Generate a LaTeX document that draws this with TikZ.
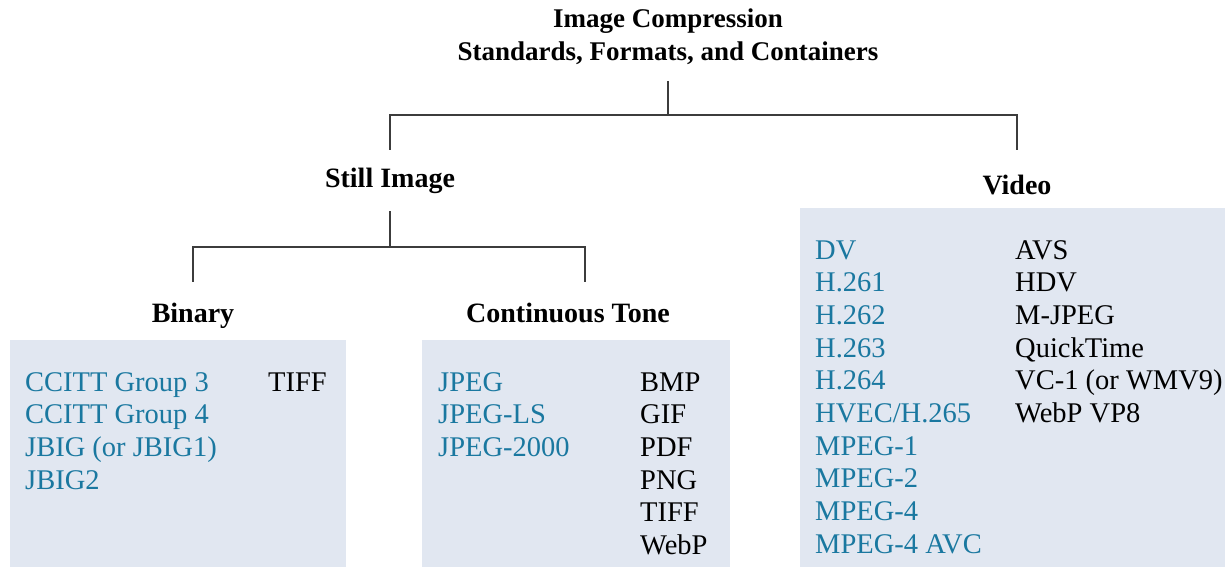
\documentclass[tikz,border=0pt]{standalone}
\usepackage{fontspec}
\setmainfont{Liberation Serif}
\usepackage{xcolor}
\definecolor{panelblue}{RGB}{225,231,241}
\definecolor{stdblue}{RGB}{26,120,160}
\definecolor{linegray}{RGB}{60,60,60}

\begin{document}
\begin{tikzpicture}[x=1pt,y=-1pt]
	\tikzstyle{title}=[font=\fontsize{27}{33}\selectfont\bfseries, align=center, inner xsep=0pt, inner ysep=16pt]
	\tikzstyle{head}=[font=\fontsize{28}{33}\selectfont\bfseries, inner xsep=0pt, text height=19pt, text depth=6pt, anchor=base]
	\tikzstyle{item}=[font=\fontsize{28.5}{33}\selectfont, inner sep=0pt, anchor=base west]
	\tikzstyle{link}=[draw=linegray, line width=1.8pt]
	\tikzstyle{panel}=[fill=panelblue]
	\useasboundingbox (0,0) rectangle (1225,567);
	
	% shaded panels
	\fill[panel] (10,340) rectangle (346,567);
	\fill[panel] (422,340) rectangle (730,567);
	\fill[panel] (800,208) rectangle (1225,567);
	
	\node[title, anchor=north] (top) at (668,-7.5) {Image Compression\\Standards, Formats, and Containers};
	\node[head, inner ysep=18pt] (still) at (390,187) {Still Image};
	\node[head, inner ysep=25pt] (video) at (1017,194) {Video};
	\node[head, inner ysep=21pt] (binary) at (193,322) {Binary};
	\node[head, inner ysep=21pt] (cont) at (568,322) {Continuous Tone};
	
	\coordinate (tj) at (668,115);
	\coordinate (sj) at (390,247);
	
	\draw[link] (top.south) -- (tj);
	\draw[link] (still.north) |- (tj) -| (video.north);
	\draw[link] (still.south) -- (sj);
	\draw[link] (binary.north) |- (sj) -| ([xshift=17pt]cont.north);
	
	% binary
	\foreach \t [count=\i] in {CCITT Group 3, CCITT Group 4, JBIG (or JBIG1), JBIG2}
		\node[item, text=stdblue] (bin\i) at (25,{391+(\i-1)*32.7}) {\t};
	\node[item] (binf) at (268,391) {TIFF};
	
	% continuous tone
	\foreach \t [count=\i] in {JPEG, JPEG-LS, JPEG-2000}
		\node[item, text=stdblue] (ct\i) at (438,{391+(\i-1)*32.7}) {\t};
	\foreach \t [count=\i] in {BMP, GIF, PDF, PNG, TIFF, WebP}
		\node[item] (ctf\i) at (640,{391+(\i-1)*32.7}) {\t};
	
	% video
	\foreach \t [count=\i] in {DV, H.261, H.262, H.263, H.264, HVEC/H.265, MPEG-1, MPEG-2, MPEG-4, MPEG-4 AVC}
		\node[item, text=stdblue] (vid\i) at (815,{259+(\i-1)*32.7}) {\t};
	\foreach \t [count=\i] in {AVS, HDV, M-JPEG, QuickTime, VC-1 (or WMV9), WebP VP8}
		\node[item] (vidf\i) at (1015,{259+(\i-1)*32.7}) {\t};
	
\end{tikzpicture}
\end{document}
